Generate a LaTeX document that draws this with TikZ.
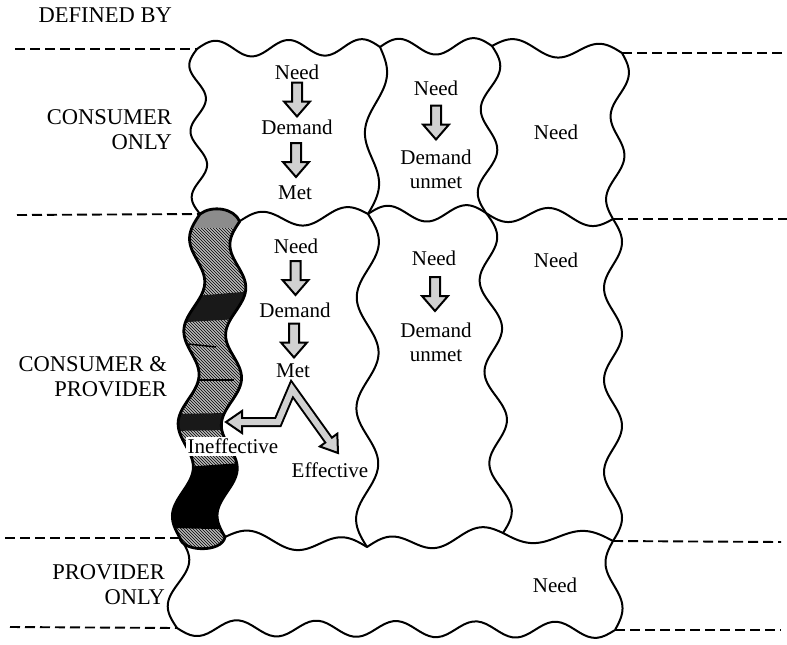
\documentclass[tikz,border=0pt]{standalone}
\usepackage{fontspec}
\setmainfont{Liberation Serif}
\usetikzlibrary{calc,patterns}
\begin{document}
\begin{tikzpicture}[x=1pt,y=-1pt,
 cell/.style={line width=2pt,line cap=round,line join=round},
 ribbonline/.style={line width=2.8pt,line join=round},
 guide/.style={line width=1.9pt,dash pattern=on 10pt off 5pt},
 txt/.style={font=\fontsize{21}{24}\selectfont,inner sep=1pt,align=center},
 side/.style={font=\fontsize{22.5}{25}\selectfont,inner sep=0pt,align=right,anchor=east},
 arrowbox/.style={draw=black,fill=black!18,line width=2pt,line join=miter},
 downarrow/.pic={\draw[arrowbox] (-5,-17) -- (5,-17) -- (5,2) -- (13,2) -- (0,17) -- (-13,2) -- (-5,2) -- cycle;}
]
\useasboundingbox (0,0) rectangle (787,645);

% grid nodes
\coordinate (T0) at (197,49);
\coordinate (T3) at (622,53);
\coordinate (M0) at (200,214);
\coordinate (M3) at (613,219);
\coordinate (B0) at (180,538);
\coordinate (B3) at (613,541);
\coordinate (D0) at (177,628);
\coordinate (D3) at (615,630);

% ---- shaded ribbon ----
\begin{scope}
\clip plot[domain=0:1,samples=120,variable=\t] ({200-20*\t-9*sin(1260*\t)},{214+324*\t})
 .. controls (182,552) and (222,553) .. (225,537)
 -- plot[domain=0:1,samples=120,variable=\t] ({225+15*\t-9*sin(1260*(1-\t))},{537-316*\t})
 .. controls (234,208) and (212,205) .. (200,214) -- cycle;
\fill[black!28] (150,190) rectangle (270,560);
\fill[pattern=north west lines] (150,190) rectangle (270,560);
\fill[black!45] (150,205) rectangle (270,228);
\fill[black!90] (170,298) -- (255,291) -- (255,318) -- (170,323) -- cycle;
\fill[black!90] (170,414) -- (228,413) -- (228,430) -- (170,431) -- cycle;
\fill[black] (170,468) -- (255,462) -- (255,530) -- (170,528) -- cycle;
\draw[black,line width=2pt] (196,380) -- (234,380);
\draw[black,line width=1.5pt] (188,344) -- (216,347);
\end{scope}
\draw[ribbonline] plot[domain=0:1,samples=120,variable=\t] ({200-20*\t-9*sin(1260*\t)},{214+324*\t})
 .. controls (182,552) and (222,553) .. (225,537)
 -- plot[domain=0:1,samples=120,variable=\t] ({225+15*\t-9*sin(1260*(1-\t))},{537-316*\t})
 .. controls (234,208) and (212,205) .. (200,214) -- cycle;

% ---- wavy cell edges: horizontal (displacement in y, + = down) ----
\foreach \xa/\ya/\xb/\yb/\m/\A in {
 197/49/380/47/5/-8, 380/47/492/46/3/-8, 492/46/622/53/3/-8,
 240/221/368/214/3/-8, 368/214/486/213/3/-8, 486/213/613/219/3/8,
 225/537/367/547/3/-8, 367/547/503/533/3/-8, 503/533/613/541/2/8,
 177/628/615/630/11/8}
{\draw[cell] plot[domain=0:1,samples=100,variable=\t]
  ({\xa+(\xb-\xa)*\t},{\ya+(\yb-\ya)*\t+(\A)*sin(180*\m*\t)});}

% ---- vertical (displacement in x, + = right) ----
\foreach \xa/\ya/\xb/\yb/\m/\A in {
 197/49/200/214/5/-8, 380/47/368/214/3/9, 492/46/486/213/4/9, 622/53/613/219/4/8,
 368/214/367/547/6/11, 486/213/503/533/7/10, 613/219/613/541/7/9,
 180/538/177/628/2/10, 613/541/615/630/2/-8}
{\draw[cell] plot[domain=0:1,samples=100,variable=\t]
  ({\xa+(\xb-\xa)*\t+(\A)*sin(180*\m*\t)},{\ya+(\yb-\ya)*\t});}

% ---- dashed guide lines ----
\coordinate (gL1) at (15,49);
\coordinate (gL2) at (17,215);
\coordinate (gL3) at (5,538);
\coordinate (gL4) at (10,627);
\coordinate (gR1) at (787,53);
\coordinate (gR2) at (787,219);
\coordinate (gR3) at (781,542);
\coordinate (gR4) at (781,630);
\draw[guide] (gL1) -- (T0);
\draw[guide] (gL2) -- (M0);
\draw[guide] (gL3) -- (B0);
\draw[guide] (gL4) -- (D0);
\draw[guide] (T3) -- (gR1);
\draw[guide] (M3) -- (gR2);
\draw[guide] (B3) -- (gR3);
\draw[guide] (D3) -- (gR4);

% ---- side labels ----
\node[side] (defby) at (172,15) {DEFINED BY};
\node[side] (conly) at (172,130) {CONSUMER\\ONLY};
\node[side] (cprov) at (167,377) {CONSUMER \&\\PROVIDER};
\node[side] (ponly) at (165,585) {PROVIDER\\ONLY};

% ---- cell texts ----
\node[txt] (needA) at (297,72) {Need};
\node[txt] (demA) at (297,127) {Demand};
\node[txt] (metA) at (295,193) {Met};
\node[txt] (needB) at (436,88) {Need};
\node[txt] (demB) at (436,169) {Demand\\unmet};
\node[txt] (needC) at (556,132) {Need};
\node[txt] (needA2) at (296,246) {Need};
\node[txt] (demA2) at (295,310) {Demand};
\node[txt] (metA2) at (293,371) {Met};
\node[txt] (needB2) at (434,258) {Need};
\node[txt] (demB2) at (436,342) {Demand\\unmet};
\node[txt] (needC2) at (556,260) {Need};
\node[txt] (effect) at (330,470) {Effective};
\node[txt] (needD) at (555,585) {Need};

% ---- down arrows ----
\pic at ($(needA)!0.5!(demA)$) {downarrow};
\pic at ($(demA)!0.5!(metA)$) {downarrow};
\pic at ($(needB.south)!0.5!(demB.north)$) {downarrow};
\pic at ($(needA2)!0.5!(demA2)$) {downarrow};
\pic at ($(demA2)!0.5!(metA2)$) {downarrow};
\pic at ($(needB2.south)!0.5!(demB2.north)$) {downarrow};

% ---- zigzag double arrow ----
\coordinate (zA) at (292,389);
\coordinate (zL) at (278,422);
\coordinate (zLb) at (242,422);
\coordinate (zLt) at (226,422);
\coordinate (zRb) at (328.6,440.1);
\coordinate (zRt) at (338,453);
\draw[arrowbox] (zLt) -- (242,411) -- (242,433) -- cycle;
\draw[arrowbox] (zRt) -- (337.3,433.7) -- (319.9,446.5) -- cycle;
\draw[line width=10pt,line join=miter] (zLb) -- (zL) -- (zA) -- (zRb);
\draw[line width=6pt,black!18,line join=miter] (239,422) -- (zL) -- (zA) -- (330.3,442.5);

% ---- Ineffective label over the ribbon ----
\node[txt,fill=white,inner sep=2pt] (ineff) at (233,446) {Ineffective};
\end{tikzpicture}
\end{document}
